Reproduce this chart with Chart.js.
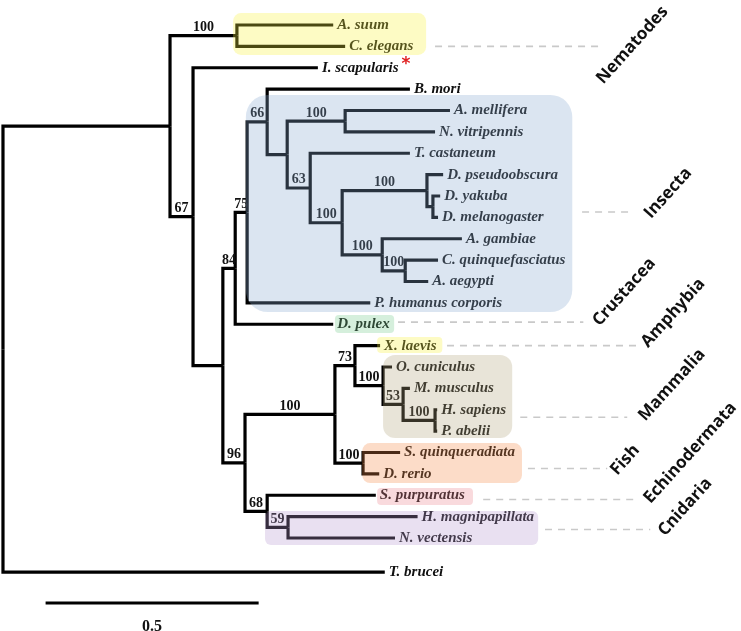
<!DOCTYPE html>
<html>
<head>
<meta charset="utf-8">
<title>Phylogenetic tree</title>
<script src="https://cdn.jsdelivr.net/npm/chart.js@4.4.1/dist/chart.umd.min.js"></script>
<style>
  html, body { margin: 0; padding: 0; background: #ffffff; }
  #wrap { position: relative; width: 741px; height: 631px; }
</style>
</head>
<body>
<div id="wrap"><canvas id="treeChart"></canvas></div>
<script>
// 1) Leaves: name, row (top to bottom) and tip position (distance from root)
const leafNames = [
  "A. suum", "C. elegans", "I. scapularis", "B. mori", "A. mellifera",
  "N. vitripennis", "T. castaneum", "D. pseudoobscura", "D. yakuba",
  "D. melanogaster", "A. gambiae", "C. quinquefasciatus", "A. aegypti",
  "P. humanus corporis", "D. pulex", "X. laevis", "O. cuniculus",
  "M. musculus", "H. sapiens", "P. abelii", "S. quinqueradiata", "D. rerio",
  "S. purpuratus", "H. magnipapillata", "N. vectensis", "T. brucei"
];
const leafRows = [0, 1, 2, 3, 4, 5, 6, 7, 8, 9, 10, 11, 12, 13, 14, 15, 16, 17,
  18, 19, 20, 21, 22, 23, 24, 25.6];
const leafDepth = [0.775, 0.803, 0.739, 0.955, 1.049, 1.014, 0.955, 1.033,
  1.026, 1.021, 1.077, 1.021, 0.998, 0.862, 0.775, 0.885, 0.913, 0.955, 1.019,
  1.019, 0.932, 0.883, 0.875, 0.973, 0.920, 0.896];

// 2) Internal nodes: depth, bootstrap support (null = not shown), children
const nodeDepth = [0, 0.392, 0.549, 0.446, 0.516, 0.545, 0.573, 0.620, 0.667,
  0.803, 0.721, 0.796, 0.995, 1.009, 0.890, 0.944, 0.568, 0.779, 0.826, 0.892,
  0.939, 1.014, 0.845, 0.620, 0.669];
const nodeSupport = [null, null, 100, 67, null, 84, 75, 66, null, 100, 63, 100,
  100, null, 100, 100, 96, 100, 73, 100, 53, 100, 100, 68, 59];
const nodeChildren = [
  ["n1", "L25"], ["n2", "n3"], ["L0", "L1"], ["L2", "n4"], ["n5", "n16"],
  ["n6", "L14"], ["n7", "L13"], ["L3", "n8"], ["n9", "n10"], ["L4", "L5"],
  ["L6", "n11"], ["n12", "n14"], ["L7", "n13"], ["L8", "L9"], ["L10", "n15"],
  ["L11", "L12"], ["n17", "n23"], ["n18", "n22"], ["L15", "n19"],
  ["L16", "n20"], ["L17", "n21"], ["L18", "L19"], ["L20", "L21"],
  ["L22", "n24"], ["L23", "L24"]
];

// 3) Group names on the right
const groupNames = ["Nematodes", "Insecta", "Crustacea", "Amphybia",
  "Mammalia", "Fish", "Echinodermata", "Cnidaria"];
const groupRows = [1, 8.75, 13.9, 15, 18.35, 20.75, 22.2, 23.6];

// scale bar (branch length units)
const scaleBarStart = 0.1;
const scaleBarLength = 0.5;

// decoration layout (depth / row units)
const highlightBoxes = [
  { x0: 0.540, x1: 0.993, top: -0.56, bottom: 1.40, r: 8,  color: "rgba(248,242,58,0.3)" },
  { x0: 0.570, x1: 1.336, top: 3.27,  bottom: 13.43, r: 22, color: "rgba(135,168,208,0.3)" },
  { x0: 0.779, x1: 0.918, top: 13.57, bottom: 14.41, r: 4,  color: "rgba(115,202,138,0.3)" },
  { x0: 0.878, x1: 1.031, top: 14.60, bottom: 15.35, r: 4,  color: "rgba(248,242,58,0.3)" },
  { x0: 0.892, x1: 1.195, top: 15.44, bottom: 19.32, r: 12, color: "rgba(178,165,125,0.3)" },
  { x0: 0.843, x1: 1.218, top: 19.56, bottom: 21.43, r: 8,  color: "rgba(245,138,72,0.3)" },
  { x0: 0.878, x1: 1.103, top: 21.66, bottom: 22.46, r: 4,  color: "rgba(235,132,142,0.3)" },
  { x0: 0.615, x1: 1.256, top: 22.74, bottom: 24.33, r: 6,  color: "rgba(182,152,207,0.3)" }
];
const groupDash = [[1.014, 1.397], [1.359, 1.479], [0.927, 1.362], [1.042, 1.495],
  [1.214, 1.465], [1.232, 1.418], [1.127, 1.479], [1.272, 1.519]];
const groupLabelPos = [[1.477, 0.94], [1.561, 7.86], [1.458, 12.49], [1.573, 13.47],
  [1.570, 16.84], [1.460, 20.35], [1.613, 20.02], [1.601, 22.55]];

// -----------------------------
// helpers to walk the tree
function isLeaf(ref) { return ref[0] === "L"; }
function refIndex(ref) { return parseInt(ref.slice(1), 10); }
function depthOf(ref) {
  return isLeaf(ref) ? leafDepth[refIndex(ref)] : nodeDepth[refIndex(ref)];
}
function rowOf(ref) {
  if (isLeaf(ref)) return leafRows[refIndex(ref)];
  const kids = nodeChildren[refIndex(ref)];
  return (rowOf(kids[0]) + rowOf(kids[kids.length - 1])) / 2;
}

// parent of each internal node (for support label placement)
const nodeParent = nodeDepth.map(() => null);
nodeChildren.forEach((kids, i) => {
  kids.forEach((k) => { if (!isLeaf(k)) nodeParent[refIndex(k)] = i; });
});

function lineSet(points) {
  return {
    data: points,
    showLine: true,
    borderColor: "#000",
    backgroundColor: "#000",
    borderWidth: 3.2,
    pointRadius: 0,
    pointHoverRadius: 0,
    borderJoinStyle: "miter",
    borderCapStyle: "butt",
    tension: 0,
  };
}

// 4) one elbow (vertical + horizontal) per child
const datasets = [];
nodeChildren.forEach((kids, i) => {
  const nx = nodeDepth[i];
  const ny = rowOf("n" + i);
  kids.forEach((k) => {
    const cy = rowOf(k);
    datasets.push(lineSet([{ x: nx, y: ny }, { x: nx, y: cy }, { x: depthOf(k), y: cy }]));
  });
});
// scale bar
datasets.push(lineSet([{ x: scaleBarStart, y: 27.04 },
  { x: scaleBarStart + scaleBarLength, y: 27.04 }]));

// 5) texts and coloured boxes
const treeDecor = {
  id: "treeDecor",
  afterDatasetsDraw(chart) {
    const ctx = chart.ctx;
    const xs = chart.scales.x;
    const ys = chart.scales.y;
    const px = (v) => xs.getPixelForValue(v);
    const py = (v) => ys.getPixelForValue(v);
    ctx.save();

    // species names
    ctx.fillStyle = "#111";
    ctx.textAlign = "left";
    ctx.textBaseline = "middle";
    ctx.font = "italic bold 15px 'Liberation Serif'";
    leafNames.forEach((name, i) => {
      const x = px(leafDepth[i]) + 4;
      const y = py(leafRows[i]);
      ctx.fillText(name, x, y);
      if (name === "I. scapularis") {
        const w = ctx.measureText(name).width;
        ctx.save();
        ctx.fillStyle = "#e02020";
        ctx.font = "bold 17px 'DejaVu Sans'";
        ctx.fillText("*", x + w + 3, y - 3);
        ctx.restore();
      }
    });

    // bootstrap values, centred over the branch that leads to the node
    ctx.font = "bold 14px 'Liberation Serif'";
    ctx.textAlign = "center";
    ctx.textBaseline = "alphabetic";
    nodeSupport.forEach((s, i) => {
      if (s === null || nodeParent[i] === null) return;
      const x0 = px(nodeDepth[nodeParent[i]]);
      const x1 = px(nodeDepth[i]);
      ctx.fillText(String(s), (x0 + x1) / 2, py(rowOf("n" + i)) - 4.5);
    });

    // scale label
    ctx.font = "bold 16px 'Liberation Serif'";
    ctx.fillText(String(scaleBarLength), px(scaleBarStart + scaleBarLength / 2), py(28.07) + 6);

    // translucent highlight boxes over lines and names
    highlightBoxes.forEach((b) => {
      const x = px(b.x0), y = py(b.top);
      ctx.beginPath();
      ctx.roundRect(x, y, px(b.x1) - x, py(b.bottom) - y, b.r);
      ctx.fillStyle = b.color;
      ctx.fill();
    });

    // dashed leaders and rotated group names
    ctx.strokeStyle = "#c9c9c9";
    ctx.lineWidth = 1.6;
    ctx.setLineDash([7, 6]);
    groupRows.forEach((r, i) => {
      ctx.beginPath();
      ctx.moveTo(px(groupDash[i][0]), py(r));
      ctx.lineTo(px(groupDash[i][1]), py(r));
      ctx.stroke();
    });
    ctx.setLineDash([]);
    ctx.fillStyle = "#111";
    ctx.font = "bold 17px 'Open Sans'";
    ctx.textAlign = "center";
    ctx.textBaseline = "middle";
    groupNames.forEach((g, i) => {
      ctx.save();
      ctx.translate(px(groupLabelPos[i][0]), py(groupLabelPos[i][1]));
      ctx.rotate(-48 * Math.PI / 180);
      ctx.fillText(g, 0, 0);
      ctx.restore();
    });

    ctx.restore();
  },
};

// 6) chart
new Chart(document.getElementById("treeChart").getContext("2d"), {
  type: "scatter",
  data: { datasets: datasets },
  options: {
    responsive: true,
    maintainAspectRatio: false,
    animation: false,
    layout: { padding: 0 },
    scales: {
      x: { type: "linear", min: -0.007, max: 1.732, display: false },
      y: { type: "linear", min: -1.17, max: 28.35, reverse: true, display: false },
    },
    plugins: {
      legend: { display: false },
      tooltip: { enabled: false },
      colors: { enabled: false },
    },
  },
  plugins: [treeDecor],
});
</script>
</body>
</html>
